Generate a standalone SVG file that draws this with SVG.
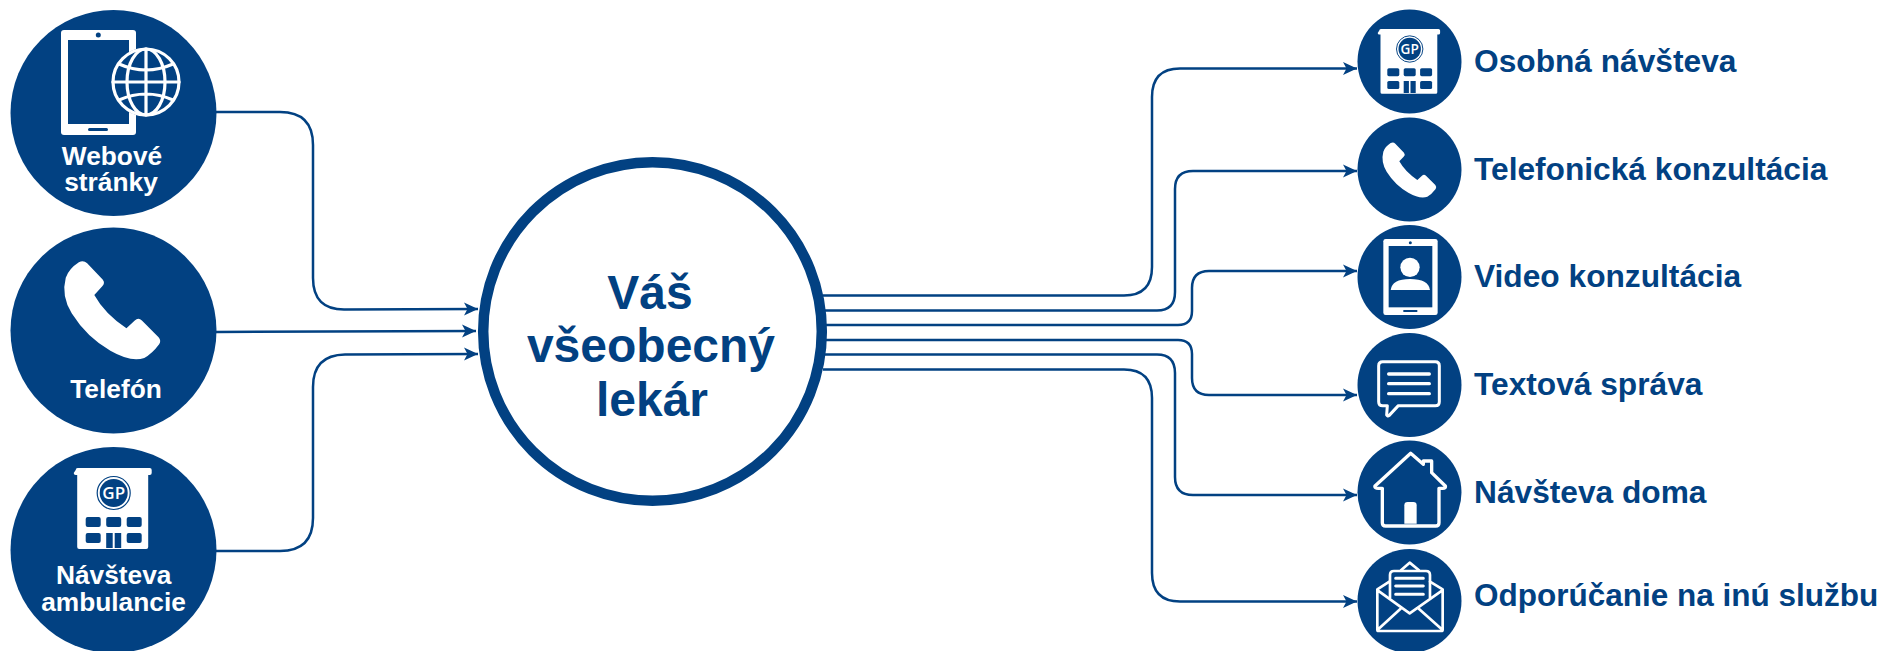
<svg xmlns="http://www.w3.org/2000/svg" xmlns:xlink="http://www.w3.org/1999/xlink" width="1884" height="651" viewBox="0 0 1884 651">
<style>
text{font-family:"Liberation Sans",Arial,sans-serif;font-weight:700}
.d{fill:#024182}
.lab{fill:#fff;font-size:26.3px;text-anchor:middle}
.rt{fill:#024182;font-size:31.7px}
.ct{fill:#024182;font-size:48px;text-anchor:middle}
.gp{fill:#fff;font-family:"Open Sans","Noto Sans",sans-serif;font-weight:600;text-anchor:middle}
.c{fill:none;stroke:#024182;stroke-width:2.5}
.w{fill:#fff}
.wl{fill:none;stroke:#fff;stroke-linejoin:round;stroke-linecap:round}
</style>
<defs>
<marker id="a" markerUnits="userSpaceOnUse" markerWidth="16" markerHeight="14" refX="14" refY="6.5" orient="auto" viewBox="0 0 16 13"><path d="M0 0L14 6.5L0 13L3.5 6.5Z" fill="#024182"/></marker>
<path id="ph" d="M130 455Q135 440 152 429Q160 425 166 431L192 458Q197 464 191 470L178 484Q195 515 232 540L246 527Q252 521 258 527L286 555Q291 561 287 567Q275 583 262 590Q240 598 205 578Q165 555 140 515Q122 485 130 455Z" fill="#fff"/>
<g id="bd">
<path d="M-38 2a2 2 0 0 1 2-2h72a2 2 0 0 1 2 2v3a2 2 0 0 1-2 2h-1.500v72a2 2 0 0 1-2 2h-67a2 2 0 0 1-2-2v-72h-1.500a2 2 0 0 1-2-2z" fill="#fff"/>
<circle cx="0" cy="25" r="16.500" fill="none" stroke="#024182" stroke-width="1.200"/>
<circle cx="0" cy="25" r="14" fill="#024182"/>
<g fill="#024182">
<rect x="-28" y="49" width="15" height="10" rx="2"/><rect x="-7.500" y="49" width="15" height="10" rx="2"/><rect x="13" y="49" width="15" height="10" rx="2"/>
<rect x="-28" y="65" width="15" height="10" rx="2"/><rect x="13" y="65" width="15" height="10" rx="2"/>
<rect x="-7.500" y="65" width="6.500" height="15"/><rect x="1" y="65" width="6.500" height="15"/>
</g>
</g>
</defs>

<g id="connectors" class="c">
<path class="c" d="M216 112H280Q313 112 313 145V278Q313 310 345 309.500L478 309" marker-end="url(#a)"/>
<path class="c" d="M216 332L476 331" marker-end="url(#a)"/>
<path class="c" d="M216 551H280Q313 551 313 518V387Q313 355 345 354.500L478 354" marker-end="url(#a)"/>
<path class="c" d="M823 295.500H1124Q1152 295.500 1152 267V97Q1152 68.500 1180 68.500H1357" marker-end="url(#a)"/>
<path class="c" d="M825 310.500H1157Q1175 310.500 1175 292V189Q1175 171 1193 171H1357" marker-end="url(#a)"/>
<path class="c" d="M826 325H1178Q1192 325 1192 311V288Q1192 271 1209 271H1357" marker-end="url(#a)"/>
<path class="c" d="M826 340H1178Q1192 340 1192 354V378Q1192 395 1209 395H1357" marker-end="url(#a)"/>
<path class="c" d="M825 354.500H1157Q1175 354.500 1175 373V477Q1175 495 1193 495H1357" marker-end="url(#a)"/>
<path class="c" d="M823 369.500H1124Q1152 369.500 1152 398V573Q1152 601.500 1180 601.500H1357" marker-end="url(#a)"/>
</g>

<g id="center">
<circle cx="652.500" cy="331.500" r="169.300" fill="#fff" stroke="#024182" stroke-width="10.500"/>
<text class="ct" x="650" y="309">Váš</text>
<text class="ct" x="651" y="362">všeobecný</text>
<text class="ct" x="652" y="416">lekár</text>
</g>

<g id="web">
<circle class="d" cx="113.500" cy="113" r="103"/>
<rect class="w" x="61" y="30" width="75" height="105" rx="3"/>
<rect class="d" x="68" y="40" width="61" height="84"/>
<circle class="d" cx="98.300" cy="35" r="2.500"/>
<rect class="d" x="88" y="128" width="20" height="3" rx="1.500"/>
<g transform="translate(146 82)">
<circle r="34.500" class="d"/>
<g class="wl" stroke-width="3.200" stroke="#fff">
<circle r="33"/><ellipse rx="19" ry="33"/>
<path d="M0-33V33M-33 0H33M-27-18Q0-6 27-18M-27 18Q0 6 27 18"/>
</g>
</g>
<text class="lab" x="112" y="165">Webové</text>
<text class="lab" x="111" y="191">stránky</text>
</g>

<g id="phone">
<circle class="d" cx="113.500" cy="330.500" r="103"/>
<use href="#ph" xlink:href="#ph" transform="translate(-11.600 6.900) scale(.595)"/>
<text class="lab" x="116" y="397.500">Telefón</text>
</g>

<g id="visit">
<circle class="d" cx="113.500" cy="550" r="103"/>
<use href="#bd" xlink:href="#bd" transform="translate(113.700 468)"/>
<text class="gp" x="113.700" y="499" font-size="17">GP</text>
<text class="lab" x="113.700" y="584">Návšteva</text>
<text class="lab" x="113.500" y="610.500">ambulancie</text>
</g>

<g id="r1">
<circle class="d" cx="1409.500" cy="61.500" r="52"/>
<use href="#bd" xlink:href="#bd" transform="translate(1409.700 29) scale(.8)"/>
<text class="gp" x="1409.700" y="54" font-size="13.600">GP</text>
<text class="rt" x="1474" y="71.500">Osobná návšteva</text>
</g>

<g id="r2">
<circle class="d" cx="1409.500" cy="169.500" r="52"/>
<use href="#ph" xlink:href="#ph" transform="translate(1340 0) scale(.3333)"/>
<text class="rt" x="1474" y="179.500">Telefonická konzultácia</text>
</g>

<g id="r3">
<circle class="d" cx="1409.500" cy="277" r="52"/>
<g transform="translate(1340 215) scale(.3333)">
<rect class="w" x="130" y="72" width="163" height="228" rx="7"/>
<rect class="d" x="146" y="93" width="131" height="184"/>
<circle class="d" cx="211" cy="83" r="4.500"/>
<rect class="d" x="190" y="285" width="42" height="6"/>
<circle class="w" cx="210" cy="157" r="29"/>
<path class="w" d="M152 225Q156 192 210 192Q266 192 270 225Z"/>
</g>
<text class="rt" x="1474" y="286.500">Video konzultácia</text>
</g>

<g id="r4">
<circle class="d" cx="1409.500" cy="385" r="52"/>
<g transform="translate(1340 215) scale(.3333)">
<path class="wl" stroke-width="9" d="M128 440H286Q298 440 298 452V560Q298 572 286 572H175L147 602Q143 605 140 600L142 572H128Q116 572 116 560V452Q116 440 128 440Z"/>
<path class="wl" stroke-width="10" d="M146 477H268M146 506H268M146 536H268"/>
</g>
<text class="rt" x="1474" y="395">Textová správa</text>
</g>

<g id="r5">
<circle class="d" cx="1409.500" cy="492.500" r="52"/>
<g transform="translate(1340 431) scale(.3333)">
<path class="wl" stroke-width="10" d="M105 165L212 67L250 100V90H275V125L316 165Q318 172 308 172H297V275Q297 285 287 285H137Q127 285 127 275V172H115Q103 172 105 165Z"/>
<path class="w" d="M193 278V223Q193 213 203 213H220Q230 213 230 223V278Z"/>
</g>
<text class="rt" x="1474" y="502.500">Návšteva doma</text>
</g>

<g id="r6">
<circle class="d" cx="1409.500" cy="601" r="52"/>
<g transform="translate(1340 431) scale(.3333)">
<path class="wl" stroke-width="8" d="M113 600H304Q308 600 308 596V475L270 452M148 452L112 475V596Q112 600 116 600M113 478L209 547L307 478M113 596L185 530M307 596L233 530M183 418L209 395L237 418"/>
<path class="wl" stroke-width="8" d="M150 500V432Q150 420 162 420H258Q270 420 270 432V500"/>
<path class="wl" stroke-width="9" d="M167 442H250M167 465H250M167 490H250"/>
</g>
<text class="rt" x="1474" y="606" style="font-size:31.500px">Odporúčanie na inú službu</text>
</g>
</svg>
